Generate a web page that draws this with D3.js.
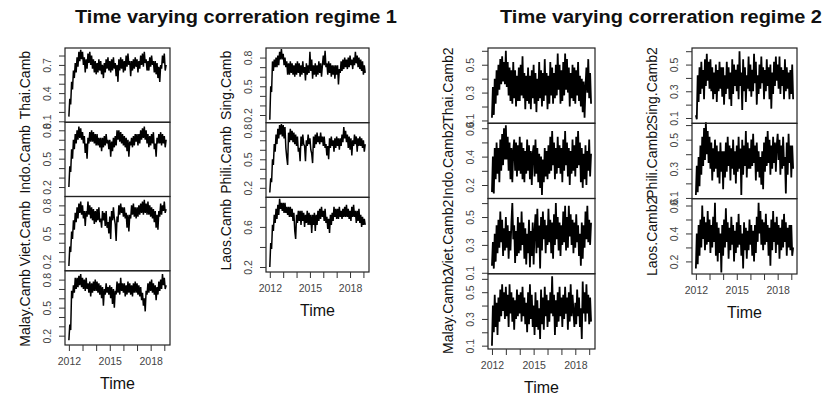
<!DOCTYPE html>
<html>
<head>
<meta charset="utf-8">
<script src="https://cdn.jsdelivr.net/npm/d3@7"></script>
<style>
  body { margin: 0; background: #fff; }
  svg { display: block; font-family: "Liberation Sans", Arial, sans-serif; }
</style>
</head>
<body>
<svg id="chart" width="827" height="399"></svg>
<script>
// one value every 1/15 year starting at 2012, values in hundredths
const startYear = 2012;
const stepYear = 1 / 15;
const yearTicks = [2012, 2013, 2014, 2015, 2016, 2017, 2018, 2019];
const yearLabels = [2012, 2015, 2018];
const titles = ['Time varying correration regime 1', 'Time varying correration regime 2'];

// regime 1
const thaiCamb = [
  15, 34, 28, 52, 44, 64, 56, 72, 62, 78, 68, 84, 74, 86, 76,
  84, 70, 78, 62, 76, 66, 82, 72, 84, 70, 80, 66, 76, 62, 74,
  60, 72, 62, 76, 64, 74, 60, 70, 56, 72, 62, 76, 66, 78, 64,
  74, 62, 76, 64, 78, 66, 72, 58, 70, 52, 76, 64, 78, 66, 76,
  62, 74, 64, 80, 68, 82, 70, 74, 58, 74, 64, 76, 66, 78, 68,
  76, 62, 74, 66, 80, 70, 82, 68, 84, 72, 76, 64, 74, 64, 78,
  68, 80, 70, 74, 62, 74, 60, 72, 56, 68, 52, 70, 66, 80, 72,
  82, 64, 70];
const indoCamb = [
  20, 42, 36, 60, 50, 70, 60, 76, 66, 80, 70, 84, 72, 82, 70,
  78, 66, 74, 56, 66, 50, 72, 66, 78, 68, 80, 68, 78, 66, 76,
  64, 76, 64, 72, 62, 72, 58, 72, 62, 74, 64, 76, 66, 70, 60,
  70, 52, 68, 58, 72, 62, 74, 64, 80, 70, 80, 68, 78, 66, 76,
  64, 74, 62, 72, 58, 70, 52, 68, 64, 72, 62, 74, 64, 76, 68,
  76, 64, 76, 66, 80, 70, 82, 72, 84, 70, 80, 66, 76, 62, 74,
  64, 76, 66, 78, 60, 66, 52, 72, 66, 76, 66, 78, 64, 76, 66,
  74, 62, 70];
const vietCamb = [
  15, 36, 30, 52, 44, 64, 54, 72, 62, 78, 66, 82, 72, 84, 70,
  80, 66, 74, 58, 74, 68, 84, 70, 80, 66, 78, 64, 76, 60, 74,
  62, 76, 64, 78, 62, 66, 56, 74, 64, 72, 58, 74, 56, 62, 50,
  68, 44, 74, 64, 78, 66, 60, 42, 68, 62, 80, 70, 82, 72, 78,
  68, 78, 66, 72, 56, 70, 52, 70, 66, 80, 70, 82, 68, 78, 66,
  78, 68, 80, 70, 82, 72, 84, 70, 86, 72, 82, 70, 84, 70, 80,
  68, 78, 66, 76, 62, 74, 56, 70, 54, 74, 68, 82, 70, 80, 74,
  84, 72, 76];
const malayCamb = [
  15, 32, 26, 68, 60, 74, 66, 82, 70, 82, 72, 84, 74, 86, 72,
  82, 70, 80, 68, 82, 70, 76, 66, 78, 62, 76, 66, 78, 68, 80,
  68, 78, 66, 76, 64, 74, 60, 72, 52, 70, 64, 76, 66, 72, 64,
  74, 60, 72, 54, 70, 50, 68, 64, 78, 66, 76, 64, 82, 68, 76,
  66, 76, 62, 74, 64, 78, 66, 76, 64, 74, 62, 76, 66, 78, 66,
  76, 64, 74, 62, 72, 58, 66, 52, 60, 46, 68, 64, 76, 66, 78,
  68, 80, 66, 76, 64, 74, 58, 72, 64, 78, 68, 80, 70, 86, 74,
  82, 70, 74];
const singCamb = [
  15, 50, 44, 76, 66, 78, 70, 80, 70, 82, 72, 86, 78, 89, 78,
  84, 72, 80, 70, 76, 62, 74, 62, 76, 64, 74, 62, 72, 60, 74,
  62, 76, 64, 74, 60, 72, 62, 76, 64, 70, 56, 74, 62, 72, 64,
  86, 66, 78, 58, 72, 62, 74, 60, 72, 62, 76, 64, 74, 60, 72,
  82, 72, 87, 70, 74, 62, 76, 64, 74, 60, 72, 62, 72, 58, 72,
  62, 72, 52, 68, 64, 76, 66, 78, 68, 80, 70, 78, 68, 80, 70,
  82, 72, 78, 68, 80, 72, 86, 74, 82, 70, 80, 68, 78, 66, 76,
  62, 72, 64];
const philiCamb = [
  15, 30, 26, 50, 44, 66, 58, 76, 66, 82, 72, 86, 76, 87, 74,
  86, 72, 84, 62, 52, 44, 78, 68, 82, 70, 80, 68, 78, 66, 76,
  64, 74, 58, 62, 48, 74, 64, 76, 66, 64, 48, 70, 64, 76, 66,
  72, 60, 56, 46, 74, 62, 76, 66, 78, 68, 74, 66, 78, 68, 74,
  64, 74, 62, 66, 54, 64, 50, 72, 62, 74, 64, 70, 58, 72, 62,
  74, 64, 72, 60, 72, 64, 76, 68, 84, 72, 80, 68, 76, 62, 74,
  60, 72, 54, 70, 64, 76, 66, 74, 58, 72, 64, 74, 64, 72, 62,
  70, 58, 66];
const laosCamb = [
  20, 44, 38, 62, 56, 72, 64, 78, 68, 82, 72, 88, 78, 84, 76,
  84, 74, 84, 74, 80, 72, 80, 70, 80, 70, 78, 66, 74, 56, 48,
  72, 64, 76, 66, 76, 62, 76, 66, 74, 60, 72, 64, 76, 62, 74,
  62, 72, 54, 72, 62, 74, 56, 72, 62, 76, 66, 78, 68, 80, 70,
  76, 66, 78, 64, 70, 58, 68, 54, 72, 62, 74, 66, 80, 70, 78,
  68, 78, 68, 80, 70, 76, 68, 78, 70, 80, 70, 82, 70, 78, 68,
  76, 66, 80, 70, 82, 70, 76, 64, 76, 66, 78, 64, 72, 60, 70,
  62, 68, 62];

// regime 2
const thaiCamb2 = [
  12, 34, 14, 40, 22, 46, 28, 50, 32, 54, 36, 56, 38, 52, 36,
  60, 34, 52, 28, 48, 24, 46, 22, 52, 26, 46, 20, 42, 24, 48,
  24, 50, 28, 56, 26, 44, 18, 42, 24, 48, 22, 42, 18, 46, 26,
  50, 22, 44, 16, 40, 24, 52, 26, 46, 20, 44, 24, 54, 28, 44,
  18, 42, 22, 52, 28, 48, 22, 44, 26, 50, 28, 58, 32, 50, 22,
  46, 24, 52, 28, 58, 32, 54, 30, 48, 20, 44, 26, 50, 24, 48,
  22, 46, 28, 52, 24, 42, 20, 40, 16, 38, 12, 34, 48, 30, 54,
  26, 44, 22];
const indoCamb2 = [
  15, 40, 14, 46, 24, 50, 28, 46, 22, 52, 30, 56, 34, 60, 38,
  62, 38, 54, 30, 50, 24, 46, 22, 44, 52, 30, 50, 26, 48, 30,
  54, 28, 50, 24, 46, 22, 44, 28, 52, 30, 48, 24, 44, 20, 42,
  48, 26, 52, 28, 46, 22, 42, 18, 40, 13, 38, 22, 46, 26, 44,
  24, 48, 28, 54, 30, 58, 34, 50, 24, 46, 28, 54, 32, 48, 28,
  46, 22, 52, 30, 58, 34, 50, 26, 46, 20, 44, 28, 52, 30, 48,
  26, 54, 32, 58, 34, 50, 22, 46, 18, 42, 24, 48, 20, 44, 30,
  52, 26, 42];
const vietCamb2 = [
  15, 32, 13, 38, 18, 44, 24, 48, 28, 54, 32, 48, 22, 42, 26,
  50, 28, 44, 20, 40, 26, 46, 60, 34, 44, 17, 40, 22, 50, 24,
  46, 26, 54, 30, 46, 20, 42, 16, 38, 24, 48, 14, 40, 22, 46,
  16, 40, 52, 24, 56, 28, 44, 13, 50, 26, 54, 34, 48, 24, 44,
  30, 56, 32, 48, 24, 46, 20, 52, 30, 60, 34, 50, 26, 46, 22,
  44, 30, 54, 32, 58, 26, 50, 28, 58, 36, 52, 30, 48, 24, 46,
  28, 52, 32, 44, 22, 38, 15, 46, 20, 44, 28, 54, 34, 58, 32,
  48, 30, 46];
const malayCamb2 = [
  10, 40, 20, 48, 24, 42, 18, 46, 28, 52, 32, 56, 36, 50, 30,
  54, 32, 48, 24, 56, 34, 50, 28, 46, 22, 44, 30, 52, 32, 48,
  34, 50, 28, 54, 32, 46, 26, 42, 20, 50, 26, 56, 30, 48, 24,
  40, 18, 50, 24, 44, 22, 38, 15, 52, 26, 46, 22, 54, 32, 48,
  24, 44, 28, 50, 34, 62, 32, 48, 18, 44, 24, 50, 28, 54, 32,
  46, 24, 48, 30, 54, 34, 46, 22, 50, 28, 56, 32, 48, 36, 24,
  42, 26, 52, 32, 46, 24, 38, 15, 58, 34, 50, 28, 56, 34, 48,
  26, 46, 28];
const singCamb2 = [
  12, 9, 42, 22, 48, 28, 52, 32, 46, 24, 54, 34, 58, 38, 52,
  32, 54, 30, 48, 24, 44, 28, 50, 22, 46, 30, 52, 32, 48, 26,
  48, 20, 42, 28, 52, 32, 48, 24, 44, 19, 54, 28, 50, 34, 46,
  30, 50, 24, 60, 34, 44, 16, 54, 30, 48, 22, 42, 32, 56, 30,
  50, 26, 46, 30, 58, 36, 52, 20, 42, 28, 50, 32, 56, 36, 48,
  24, 46, 30, 54, 34, 48, 24, 50, 17, 44, 28, 52, 34, 56, 38,
  50, 32, 56, 28, 48, 34, 46, 24, 54, 30, 48, 32, 44, 24, 46,
  28, 50, 24];
const philiCamb2 = [
  12, 32, 14, 38, 18, 46, 26, 52, 32, 58, 36, 62, 40, 56, 34,
  52, 30, 48, 22, 44, 28, 50, 30, 46, 24, 42, 20, 48, 28, 42,
  16, 42, 24, 48, 28, 52, 32, 46, 22, 44, 30, 50, 26, 42, 20,
  46, 28, 52, 30, 44, 12, 50, 26, 46, 32, 56, 24, 48, 30, 44,
  30, 50, 32, 54, 34, 46, 22, 48, 28, 42, 24, 38, 19, 42, 16,
  48, 28, 52, 32, 56, 34, 50, 26, 46, 30, 52, 34, 48, 28, 46,
  54, 36, 50, 26, 46, 30, 52, 32, 38, 13, 48, 26, 54, 34, 46,
  24, 46, 30];
const laosCamb2 = [
  15, 40, 18, 46, 24, 50, 30, 60, 36, 52, 28, 48, 32, 56, 34,
  50, 26, 46, 30, 52, 34, 62, 24, 48, 20, 44, 26, 40, 12, 46,
  24, 50, 30, 58, 34, 48, 22, 44, 28, 52, 32, 46, 20, 42, 26,
  48, 30, 54, 32, 46, 24, 40, 15, 48, 28, 44, 22, 42, 28, 50,
  32, 46, 24, 42, 20, 46, 26, 52, 34, 62, 40, 56, 32, 50, 28,
  48, 32, 54, 34, 46, 24, 44, 17, 50, 28, 56, 34, 48, 26, 52,
  32, 46, 22, 44, 28, 50, 30, 54, 34, 48, 24, 44, 30, 46, 28,
  46, 24, 30];

// y axis ticks / labels
const ticks1to8 = [0.1, 0.2, 0.3, 0.4, 0.5, 0.6, 0.7, 0.8];
const ticks2to8 = [0.2, 0.3, 0.4, 0.5, 0.6, 0.7, 0.8];
const ticksEven = [0.2, 0.4, 0.6, 0.8];
const ticks1to6 = [0.1, 0.2, 0.3, 0.4, 0.5, 0.6];
const ticks2to6 = [0.2, 0.3, 0.4, 0.5, 0.6];
const labels147 = [0.1, 0.4, 0.7];
const labels258 = [0.2, 0.5, 0.8];
const labels26 = [0.2, 0.6];
const labels135 = [0.1, 0.3, 0.5];
const labels246 = [0.2, 0.4, 0.6];

const xlim = [2011.715, 2019.418];

const groups = [
  { title: 0, titleX: 236, left: 65, right: 170, top: 48, bottom: 345, lineWidth: 1.5, panels: [
    { name: 'Thai.Camb', values: thaiCamb, ylim: [0.09, 0.88], ticks: ticks1to8, labels: labels147 },
    { name: 'Indo.Camb', values: indoCamb, ylim: [0.10, 0.885], ticks: ticks2to8, labels: labels258 },
    { name: 'Viet.Camb', values: vietCamb, ylim: [0.10, 0.895], ticks: ticks2to8, labels: labels258 },
    { name: 'Malay.Camb', values: malayCamb, ylim: [0.10, 0.895], ticks: ticks2to8, labels: labels258 }
  ]},
  { left: 266, right: 369, top: 48, bottom: 272, lineWidth: 1.5, panels: [
    { name: 'Sing.Camb', values: singCamb, ylim: [0.12, 0.90], ticks: ticks2to8, labels: labels258 },
    { name: 'Phili.Camb', values: philiCamb, ylim: [0.10, 0.885], ticks: ticks2to8, labels: labels258 },
    { name: 'Laos.Camb', values: laosCamb, ylim: [0.15, 0.895], ticks: ticksEven, labels: labels26 }
  ]},
  { title: 1, titleX: 661, left: 488, right: 595, top: 48, bottom: 349, lineWidth: 1.8, panels: [
    { name: 'Thai.Camb2', values: thaiCamb2, ylim: [0.08, 0.62], ticks: ticks1to6, labels: labels135 },
    { name: 'Indo.Camb2', values: indoCamb2, ylim: [0.105, 0.635], ticks: ticks2to6, labels: labels246 },
    { name: 'Viet.Camb2', values: vietCamb2, ylim: [0.093, 0.633], ticks: ticks1to6, labels: labels135 },
    { name: 'Malay.Camb2', values: malayCamb2, ylim: [0.075, 0.638], ticks: ticks1to6, labels: labels135 }
  ]},
  { left: 692, right: 797, top: 48, bottom: 274, lineWidth: 1.8, panels: [
    { name: 'Sing.Camb2', values: singCamb2, ylim: [0.06, 0.624], ticks: ticks1to6, labels: labels135 },
    { name: 'Phili.Camb2', values: philiCamb2, ylim: [0.095, 0.612], ticks: ticks1to6, labels: labels135 },
    { name: 'Laos.Camb2', values: laosCamb2, ylim: [0.11, 0.649], ticks: ticks2to6, labels: labels246 }
  ]}
];

const svg = d3.select('#chart');
const fmt = d3.format('.1f');

groups.forEach(g => {
  if (g.title !== undefined) {
    svg.append('text')
      .attr('x', g.titleX)
      .attr('y', 23)
      .attr('text-anchor', 'middle')
      .attr('font-size', 18)
      .attr('font-weight', 'bold')
      .attr('fill', '#111')
      .attr('textLength', 322)
      .attr('lengthAdjust', 'spacingAndGlyphs')
      .text(titles[g.title]);
  }

  let x = d3.scaleLinear().domain(xlim).range([g.left, g.right]);
  let h = (g.bottom - g.top) / g.panels.length;

  g.panels.forEach((p, k) => {
    let y0 = g.top + k * h;
    let y = d3.scaleLinear().domain(p.ylim).range([y0 + h, y0]);

    let line = d3.line()
      .x((d, i) => x(startYear + i * stepYear))
      .y(d => y(d / 100));

    svg.append('path')
      .datum(p.values)
      .attr('d', line)
      .attr('fill', 'none')
      .attr('stroke', '#000')
      .attr('stroke-width', g.lineWidth)
      .attr('stroke-linejoin', 'bevel');

    svg.append('rect')
      .attr('x', g.left)
      .attr('y', y0)
      .attr('width', g.right - g.left)
      .attr('height', h)
      .attr('fill', 'none')
      .attr('stroke', '#222')
      .attr('stroke-width', 1.2);

    let ay = svg.append('g')
      .attr('transform', `translate(${g.left},0)`)
      .call(d3.axisLeft(y)
        .tickValues(p.ticks)
        .tickSize(6)
        .tickFormat(d => p.labels.includes(d) ? fmt(d) : ''));
    ay.select('.domain').remove();
    ay.selectAll('line').attr('stroke', '#333');
    ay.selectAll('text')
      .attr('x', null)
      .attr('dy', null)
      .attr('transform', 'translate(-18,0) rotate(-90)')
      .attr('text-anchor', 'middle')
      .attr('dominant-baseline', 'central')
      .attr('font-size', 10.5)
      .attr('fill', '#444')
      .attr('font-family', '"Liberation Sans", Arial, sans-serif');

    svg.append('text')
      .attr('transform', `translate(${g.left - 40},${y0 + h / 2}) rotate(-90)`)
      .attr('text-anchor', 'middle')
      .attr('dominant-baseline', 'central')
      .attr('font-size', 14)
      .attr('fill', '#111')
      .text(p.name);
  });

  let ax = svg.append('g')
    .attr('transform', `translate(0,${g.bottom})`)
    .call(d3.axisBottom(x)
      .tickValues(yearTicks)
      .tickSize(6)
      .tickFormat(d => yearLabels.includes(d) ? d : ''));
  ax.select('.domain').remove();
  ax.selectAll('line').attr('stroke', '#333');
  ax.selectAll('text')
    .attr('y', 13)
    .attr('font-size', 10.5)
    .attr('fill', '#444')
    .attr('font-family', '"Liberation Sans", Arial, sans-serif');

  svg.append('text')
    .attr('x', (g.left + g.right) / 2)
    .attr('y', g.bottom + 44)
    .attr('text-anchor', 'middle')
    .attr('font-size', 16)
    .attr('fill', '#111')
    .text('Time');
});
</script>
</body>
</html>
